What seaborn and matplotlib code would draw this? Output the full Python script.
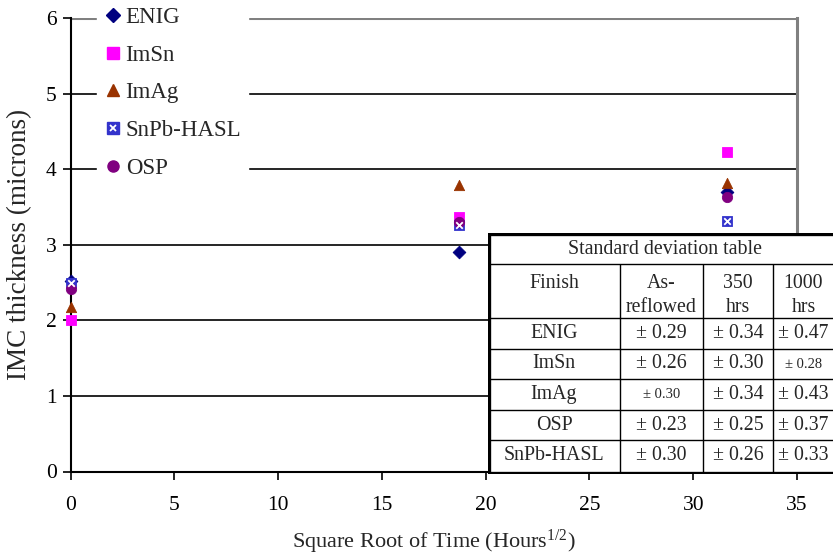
import numpy as np
import pandas as pd
import matplotlib
matplotlib.use("Agg")
import matplotlib.pyplot as plt
import seaborn as sns
from matplotlib.lines import Line2D

# ---------------- data ----------------
finishes = ["ENIG", "ImSn", "ImAg", "SnPb-HASL", "OSP"]
sqrt_time = [0.0, 18.71, 31.62]
enig = [2.52, 2.91, 3.70]
imsn = [2.01, 3.37, 4.23]
imag = [2.18, 3.79, 3.82]
snpb_hasl = [2.50, 3.26, 3.32]
osp = [2.42, 3.30, 3.64]

table_title = "Standard deviation table"
table_header = ["Finish", "As-\nreflowed", "350\nhrs", "1000\nhrs"]
table_finish = ["ENIG", "ImSn", "ImAg", "OSP", "SnPb-HASL"]
sd_asreflowed = ["± 0.29", "± 0.26", "± 0.30", "± 0.23", "± 0.30"]
sd_350 = ["± 0.34", "± 0.30", "± 0.34", "± 0.25", "± 0.26"]
sd_1000 = ["± 0.47", "± 0.28", "± 0.43", "± 0.37", "± 0.33"]
small_cells = {(2, 1), (1, 3)}  # cells printed in a smaller font

xticks = [0, 5, 10, 15, 20, 25, 30, 35]
yticks = [0, 1, 2, 3, 4, 5, 6]

colors = {"ENIG": "#000080", "ImSn": "#FF00FF", "ImAg": "#993300",
          "SnPb-HASL": "#3333CC", "OSP": "#800080"}
markers = {"ENIG": "D", "ImSn": "s", "ImAg": "^", "SnPb-HASL": "s", "OSP": "o"}
sizes = {"ENIG": 42, "ImSn": 55, "ImAg": 55, "SnPb-HASL": 55, "OSP": 55}

series = {"ENIG": enig, "ImSn": imsn, "ImAg": imag, "SnPb-HASL": snpb_hasl, "OSP": osp}
df = pd.DataFrame([(f, t, v) for f in finishes for t, v in zip(sqrt_time, series[f])],
                  columns=["finish", "t", "imc"])

# ---------------- style ----------------
sns.set_style("white")
plt.rcParams["font.family"] = ["Liberation Serif", "DejaVu Serif"]
plt.rcParams["mathtext.fontset"] = "custom"
plt.rcParams["mathtext.rm"] = "Liberation Serif"
plt.rcParams["mathtext.it"] = "Liberation Serif:italic"

fig = plt.figure(figsize=(8.33, 5.56), dpi=100)
ax = fig.add_axes([70.7 / 833, (556 - 471.5) / 556, (797 - 70.7) / 833, (471.5 - 18.3) / 556])

for yv in yticks[1:-1]:
    ax.axhline(yv, color="black", lw=1.2, zorder=0.5)
ax.axhline(6, color="#808080", lw=2.2, zorder=0.5)

for f in finishes:
    sub = df[df.finish == f]
    sns.scatterplot(data=sub, x="t", y="imc", ax=ax, marker=markers[f], s=sizes[f],
                    color=colors[f], edgecolor=colors[f], linewidth=0.6,
                    zorder=3, clip_on=False, legend=False)
    if f == "SnPb-HASL":
        ax.scatter(sub.t, sub.imc, marker="x", s=22, color="white", linewidths=1.3,
                   zorder=3.1, clip_on=False)

ax.set_xlim(0, 35)
ax.set_ylim(0, 6)
ax.set_xticks(xticks)
ax.set_yticks(yticks)
ax.tick_params(axis="both", direction="out", length=6, width=1.2, color="black",
               labelsize=15.5, labelcolor="black", left=True, bottom=True)
ax.tick_params(axis="x", pad=12)
ax.tick_params(axis="y", pad=4)

for s in ["left", "bottom"]:
    ax.spines[s].set_color("black")
    ax.spines[s].set_linewidth(1.5)
ax.spines["top"].set_visible(False)
ax.spines["right"].set_color("#808080")
ax.spines["right"].set_linewidth(2.2)

ax.set_xlabel("Square Root of Time (Hours$^{1/2}$)", fontsize=16, labelpad=9)
ax.set_ylabel("IMC thickness (microns)", fontsize=19.5, labelpad=10)

# legend
handles = []
for f in finishes:
    h = Line2D([], [], ls="none", marker=markers[f], markersize=8 if f != "ENIG" else 7,
               color=colors[f], markeredgecolor=colors[f])
    if f == "SnPb-HASL":
        hx = Line2D([], [], ls="none", marker="x", markersize=5, color="white",
                    markeredgewidth=1.3)
        h = (h, hx)
    handles.append(h)
leg = ax.legend(handles, finishes, loc="upper left",
                bbox_to_anchor=(97 / 833, (556 - 0) / 556), bbox_transform=fig.transFigure,
                fontsize=16.5, frameon=True, facecolor="white", edgecolor="white",
                framealpha=1, fancybox=False, handlelength=0.8, handletextpad=0.15,
                labelspacing=0.73, borderpad=0.3, borderaxespad=0)
leg.set_zorder(4)

# ---------------- table ----------------
tx0, ty_top, tx1, ty_bot = 488, 233, 850, 474
tax = fig.add_axes([tx0 / 833, (556 - ty_bot) / 556, (tx1 - tx0) / 833, (ty_bot - ty_top) / 556])
tax.set_xlim(0, tx1 - tx0)
tax.set_ylim(ty_bot - ty_top, 0)
tax.set_facecolor("white")
tax.set_xticks([])
tax.set_yticks([])
for s in tax.spines.values():
    s.set_visible(False)
tax.set_zorder(5)

col_edges = [0, 132, 215, 285, 362]
row_edges = [0, 31, 85, 116, 146, 177, 207, 241]
visible_right = 833 - tx0
lw_in = 1.0
for yv in row_edges[1:-1]:
    tax.plot([0, col_edges[-1]], [yv, yv], color="black", lw=lw_in, solid_capstyle="butt")
for xv in col_edges[1:-1]:
    tax.plot([xv, xv], [row_edges[1], row_edges[-1]], color="black", lw=lw_in,
             solid_capstyle="butt")
lw_out = 2.4
tax.plot([1.2, 1.2], [0, row_edges[-1]], color="black", lw=lw_out, solid_capstyle="projecting")
tax.plot([0, col_edges[-1]], [1.2, 1.2], color="black", lw=lw_out, solid_capstyle="projecting")
tax.plot([0, col_edges[-1]], [row_edges[-1] - 1.2, row_edges[-1] - 1.2], color="black",
         lw=lw_out, solid_capstyle="projecting")

fs = 14.3
tax.text(177, (row_edges[0] + row_edges[1]) / 2 + 1,
         table_title, ha="center", va="center", fontsize=fs)


def col_center(j):
    right = min(col_edges[j + 1], visible_right)
    return (col_edges[j] + right) / 2 + (0.5 if j == 3 else 0)


for j, h in enumerate(table_header):
    cx = col_center(j)
    for k, ln in enumerate(h.split("\n")):
        tax.text(cx, row_edges[1] + 20 + k * 24, ln, ha="center", va="center", fontsize=fs)
cols = [table_finish, sd_asreflowed, sd_350, sd_1000]
for i in range(len(table_finish)):
    cy = (row_edges[i + 2] + row_edges[i + 3]) / 2 + (-2 if i == 4 else 0)
    for j in range(4):
        size = 10.5 if (i, j) in small_cells else fs
        tax.text(col_center(j), cy, cols[j][i], ha="center", va="center", fontsize=size)

fig.savefig("out.png", dpi=100)
